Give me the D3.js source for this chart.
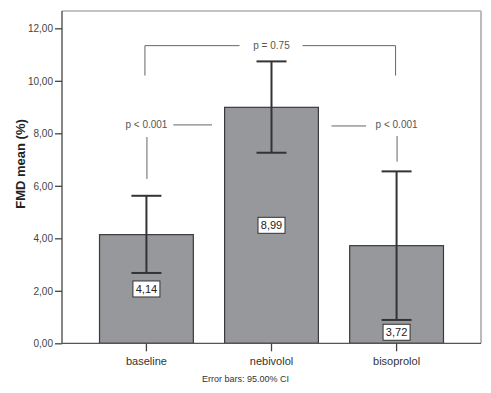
<!DOCTYPE html>
<html><head><meta charset="utf-8">
<script src="https://cdn.jsdelivr.net/npm/d3@7"></script>
<style>body{margin:0;background:#fff}svg{display:block;font-family:"Liberation Sans",Arial,sans-serif}</style>
</head><body><svg id="c" width="491" height="393"></svg>
<script>
const categories = ["baseline", "nebivolol", "bisoprolol"];
const means = [4.14, 8.99, 3.72];
const ciLow = [2.68, 7.26, 0.89];
const ciHigh = [5.62, 10.74, 6.55];
const labelAt = [2.07, 4.495, 0.42];
const yTicks = [0, 2, 4, 6, 8, 10, 12];
const yMax = 12.66;
const pTexts = ["p = 0.75", "p < 0.001", "p < 0.001"];

const svg = d3.select("#c");
const L = 62, R = 481, T = 11, B = 343.3;
const x = d3.scaleBand().domain(categories).range([L, R]).paddingInner(0.25).paddingOuter(0.3);
const y = d3.scaleLinear().domain([0, yMax]).range([B, T]);
const fmt = v => d3.format(".2f")(v).replace(".", ",");
const cx = i => x(categories[i]) + x.bandwidth() / 2;

// frame
svg.append("line").attr("x1", L).attr("x2", R).attr("y1", T).attr("y2", T).attr("stroke", "#888").attr("stroke-width", 1.2);
svg.append("line").attr("x1", R).attr("x2", R).attr("y1", T).attr("y2", B).attr("stroke", "#bbb").attr("stroke-width", 2);

// bars
svg.selectAll("rect.bar").data(means).enter().append("rect")
  .attr("x", (d, i) => x(categories[i])).attr("width", x.bandwidth())
  .attr("y", d => y(d)).attr("height", d => B - y(d))
  .attr("fill", "#97989c").attr("stroke", "#3a3a3a").attr("stroke-width", 1.2);

// axes
const ya = svg.append("g").attr("transform", `translate(${L},0)`)
  .call(d3.axisLeft(y).tickValues(yTicks).tickFormat(fmt).tickSize(7).tickSizeOuter(0));
ya.select(".domain").remove();
ya.selectAll(".tick line").attr("stroke", "#444").attr("stroke-width", 1.3);
ya.selectAll("text").attr("fill", "#444").style("font-size", "10px").attr("x", -9);
svg.append("line").attr("x1", L).attr("x2", L).attr("y1", T).attr("y2", B).attr("stroke", "#444").attr("stroke-width", 1.3);

svg.append("line").attr("x1", L).attr("x2", R).attr("y1", B).attr("y2", B).attr("stroke", "#555").attr("stroke-width", 1.3);
const xa = svg.append("g").attr("transform", `translate(0,${B})`)
  .call(d3.axisBottom(x).tickSize(8).tickSizeOuter(0));
xa.select(".domain").remove();
xa.selectAll(".tick line").attr("stroke", "#444").attr("stroke-width", 1.3);
xa.selectAll("text").attr("fill", "#333").style("font-size", "11px").attr("y", 14);

// error bars
const eb = svg.append("g").attr("stroke", "#333").attr("stroke-width", 2);
categories.forEach((c, i) => {
  eb.append("line").attr("x1", cx(i)).attr("x2", cx(i)).attr("y1", y(ciHigh[i])).attr("y2", y(ciLow[i]));
  [ciHigh[i], ciLow[i]].forEach(v => eb.append("line").attr("x1", cx(i) - 15).attr("x2", cx(i) + 15).attr("y1", y(v)).attr("y2", y(v)));
});

// value labels
means.forEach((m, i) => {
  const g = svg.append("g").attr("transform", `translate(${cx(i)},${y(labelAt[i])})`);
  g.append("rect").attr("x", -13.5).attr("y", -8).attr("width", 27).attr("height", 16).attr("fill", "#fff").attr("stroke", "#333").attr("stroke-width", 1);
  g.append("text").attr("text-anchor", "middle").attr("dy", "0.36em").style("font-size", "11px").attr("fill", "#222").text(fmt(m));
});

// significance annotations
const ag = svg.append("g").attr("stroke", "#666").attr("stroke-width", 1);
const yTop = y(11.34), yTopEnd = y(10.2);
ag.append("path").attr("fill", "none").attr("d", `M${cx(0) - 1.5},${yTopEnd}V${yTop}H${cx(1) - 32}`);
ag.append("path").attr("fill", "none").attr("d", `M${cx(1) + 31},${yTop}H${cx(2) - 1}V${yTopEnd}`);
svg.append("text").attr("x", cx(1)).attr("y", yTop).attr("dy", "0.35em").attr("text-anchor", "middle").style("font-size", "10px").attr("fill", "#555").text(pTexts[0]);

const yP = y(8.32);
ag.append("line").attr("x1", cx(0) + 27).attr("x2", cx(1) - 59.5).attr("y1", yP).attr("y2", yP);
ag.append("line").attr("x1", cx(0) + 0.5).attr("x2", cx(0) + 0.5).attr("y1", y(7.86)).attr("y2", y(6.26));
svg.append("text").attr("x", cx(0)).attr("y", yP).attr("dy", "0.35em").attr("text-anchor", "middle").style("font-size", "10px").attr("fill", "#555").text(pTexts[1]);

const yP2 = y(8.28);
ag.append("line").attr("x1", cx(1) + 60).attr("x2", cx(2) - 30.5).attr("y1", yP2).attr("y2", yP2);
ag.append("line").attr("x1", cx(2) + 0.5).attr("x2", cx(2) + 0.5).attr("y1", y(7.9)).attr("y2", y(6.92));
svg.append("text").attr("x", cx(2)).attr("y", yP).attr("dy", "0.35em").attr("text-anchor", "middle").style("font-size", "10px").attr("fill", "#555").text(pTexts[2]);

// titles
svg.append("text").attr("transform", `translate(25,164) rotate(-90)`).attr("text-anchor", "middle")
  .style("font-size", "13px").style("font-weight", "bold").attr("fill", "#222").text("FMD mean (%)");
svg.append("text").attr("x", x(categories[1]) + x.bandwidth() / 2 - 26).attr("y", 382).attr("text-anchor", "middle")
  .style("font-size", "9px").attr("fill", "#333").text("Error bars: 95.00% CI");
</script></body></html>
